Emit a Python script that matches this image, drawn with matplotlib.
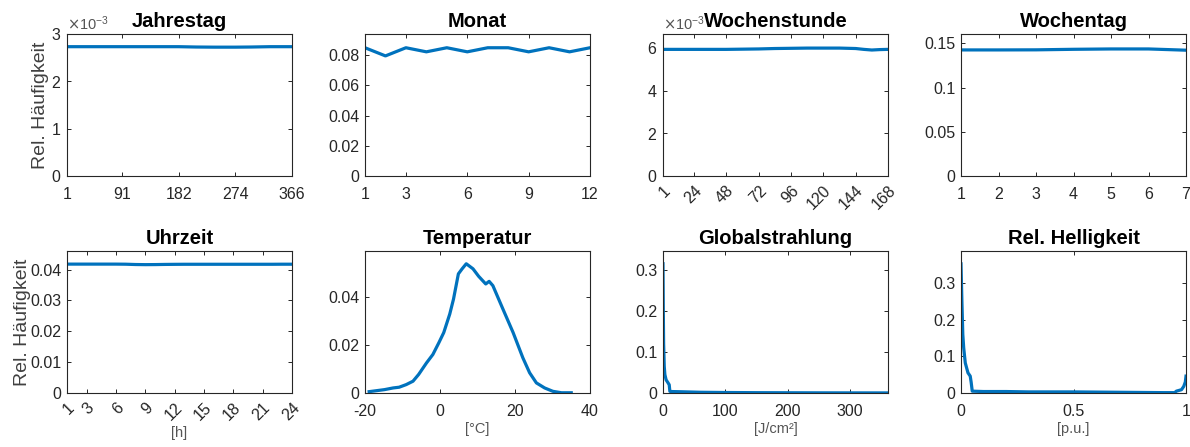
import matplotlib
matplotlib.use("Agg")
import matplotlib.pyplot as plt
from matplotlib.ticker import ScalarFormatter, FormatStrFormatter

plt.rcParams['font.family'] = ['Liberation Sans', 'DejaVu Sans']
plt.rcParams['axes.unicode_minus'] = False

# relative frequencies of the input features
jahrestag_x = [1, 40, 91, 140, 182, 210, 240, 274, 300, 330, 366]
jahrestag_y = [2.732e-3, 2.732e-3, 2.732e-3, 2.732e-3, 2.732e-3, 2.725e-3,
               2.722e-3, 2.722e-3, 2.725e-3, 2.732e-3, 2.732e-3]

monat_x = list(range(1, 13))
monat_y = [0.0849, 0.0795, 0.0849, 0.0822, 0.0849, 0.0822,
           0.0849, 0.0849, 0.0822, 0.0849, 0.0822, 0.0849]

wochenstunde_x = [1, 24, 48, 60, 72, 84, 96, 108, 120, 132, 144, 150, 156, 162, 168]
wochenstunde_y = [5.93e-3, 5.93e-3, 5.93e-3, 5.94e-3, 5.95e-3, 5.97e-3, 5.98e-3,
                  5.99e-3, 5.99e-3, 5.99e-3, 5.97e-3, 5.93e-3, 5.90e-3, 5.92e-3, 5.93e-3]

wochentag_x = [1, 2, 3, 4, 5, 6, 7]
wochentag_y = [0.1425, 0.1425, 0.1426, 0.1432, 0.1436, 0.1436, 0.1422]

uhrzeit_x = list(range(1, 25))
uhrzeit_y = [0.04175, 0.04175, 0.04175, 0.04175, 0.04175, 0.04175, 0.04172, 0.04162,
             0.04158, 0.04160, 0.04165, 0.04168, 0.04170, 0.04170, 0.04170, 0.04170,
             0.04170, 0.04170, 0.04170, 0.04170, 0.04170, 0.04170, 0.04172, 0.04172]

temp_x = [-18.9, -14.8, -12.5, -10.9, -9.0, -7.2, -5.7, -3.6, -1.9, -0.3, 1.0, 2.6,
          3.6, 4.9, 5.9, 7.0, 8.8, 10.3, 12.2, 13.1, 14.1, 16.8, 19.5, 22.1, 23.9,
          25.7, 27.9, 30.1, 32.4, 35.0]
temp_y = [0.00056, 0.0014, 0.0021, 0.0024, 0.0035, 0.0049, 0.0077, 0.0125, 0.016,
          0.0209, 0.0251, 0.0328, 0.039, 0.0495, 0.0516, 0.0537, 0.0516, 0.0485,
          0.0453, 0.0464, 0.0446, 0.0348, 0.0251, 0.0146, 0.0084, 0.0042, 0.0021,
          0.0007, 0.0001, 0.0001]

glob_x = [0, 0.5, 1, 2, 3, 5, 8, 10, 11, 15, 30, 60, 100, 150, 200, 250, 300, 361]
glob_y = [0.315, 0.2, 0.12, 0.065, 0.045, 0.032, 0.025, 0.02, 0.004, 0.0035, 0.003,
          0.0018, 0.0012, 0.0008, 0.0006, 0.0004, 0.0003, 0.0002]

hell_x = [0, 0.004, 0.008, 0.012, 0.019, 0.031, 0.041, 0.045, 0.05, 0.1, 0.2, 0.3,
          0.5, 0.7, 0.9, 0.95, 0.957, 0.98, 0.99, 0.997, 1.0]
hell_y = [0.352, 0.25, 0.16, 0.123, 0.082, 0.055, 0.046, 0.03, 0.005, 0.004, 0.004,
          0.003, 0.003, 0.002, 0.001, 0.001, 0.005, 0.009, 0.018, 0.03, 0.046]

line_col = '#0072BD'
grey = '#262626'

fig = plt.figure(figsize=(11.9, 4.47), dpi=100)

W, H = 225 / 1190, 142 / 447
lefts = [67 / 1190, 365 / 1190, 663 / 1190, 961 / 1190]
bottoms = [1 - 176 / 447, 1 - 393 / 447]
ylabel_x = [-0.078, -0.158]


def make_ax(row, col, title, x, y, xlim, ylim, xticks=None, yticks=None,
            xlabel=None, rot=False, sci=False):
    ax = fig.add_axes([lefts[col], bottoms[row], W, H])
    ax.plot(x, y, color=line_col, lw=2.3, solid_joinstyle='round')
    ax.set_xlim(*xlim)
    ax.set_ylim(*ylim)
    if xticks is not None:
        ax.set_xticks(xticks)
    if yticks is not None:
        ax.set_yticks(yticks)
    ax.xaxis.set_major_formatter(FormatStrFormatter('%g'))
    ax.yaxis.set_major_formatter(FormatStrFormatter('%g'))
    # fixed y so the title is not pushed up by the offset text
    ax.set_title(title, fontsize=14.5, fontweight='bold', pad=5, color='black', y=1.0)
    ax.tick_params(direction='in', length=3, width=0.7, colors=grey,
                   labelsize=11.5, top=True, right=True)
    ax.tick_params(axis='y', pad=4)
    ax.tick_params(axis='x', pad=8 if not rot else 5)
    for s in ax.spines.values():
        s.set_color(grey)
        s.set_linewidth(0.8)
    if rot:
        for lab in ax.get_xticklabels():
            lab.set_rotation(45)
            lab.set_ha('right')
            lab.set_va('top')
            lab.set_rotation_mode('anchor')
    if sci:
        fmt = ScalarFormatter(useMathText=True)
        fmt.set_powerlimits((-2, 2))
        ax.yaxis.set_major_formatter(fmt)
        ax.yaxis.get_offset_text().set_fontsize(10.5)
        ax.yaxis.get_offset_text().set_color('#555555')
    if xlabel:
        ax.set_xlabel(xlabel, fontsize=10.5, color='#555555', labelpad=2)
    if col == 0:
        ax.set_ylabel('Rel. Häufigkeit', fontsize=14, color='#404040')
        ax.yaxis.set_label_coords(ylabel_x[row], 0.5)
    return ax


make_ax(0, 0, 'Jahrestag', jahrestag_x, jahrestag_y, (1, 366), (0, 3e-3),
        xticks=[1, 91, 182, 274, 366], yticks=[0, 1e-3, 2e-3, 3e-3], sci=True)
make_ax(0, 1, 'Monat', monat_x, monat_y, (1, 12), (0, 0.094),
        xticks=[1, 3, 6, 9, 12], yticks=[0, 0.02, 0.04, 0.06, 0.08])
make_ax(0, 2, 'Wochenstunde', wochenstunde_x, wochenstunde_y, (1, 168), (0, 6.65e-3),
        xticks=[1, 24, 48, 72, 96, 120, 144, 168], yticks=[0, 2e-3, 4e-3, 6e-3],
        rot=True, sci=True)
make_ax(0, 3, 'Wochentag', wochentag_x, wochentag_y, (1, 7), (0, 0.1605),
        xticks=[1, 2, 3, 4, 5, 6, 7], yticks=[0, 0.05, 0.1, 0.15])
make_ax(1, 0, 'Uhrzeit', uhrzeit_x, uhrzeit_y, (1, 24), (0, 0.046),
        xticks=[1, 3, 6, 9, 12, 15, 18, 21, 24],
        yticks=[0, 0.01, 0.02, 0.03, 0.04], xlabel='[h]', rot=True)
make_ax(1, 1, 'Temperatur', temp_x, temp_y, (-20, 40), (0, 0.059),
        xticks=[-20, 0, 20, 40], yticks=[0, 0.02, 0.04], xlabel='[°C]')
make_ax(1, 2, 'Globalstrahlung', glob_x, glob_y, (0, 361), (0, 0.346),
        xticks=[0, 100, 200, 300], yticks=[0, 0.1, 0.2, 0.3], xlabel='[J/cm²]')
make_ax(1, 3, 'Rel. Helligkeit', hell_x, hell_y, (0, 1), (0, 0.387),
        xticks=[0, 0.5, 1], yticks=[0, 0.1, 0.2, 0.3], xlabel='[p.u.]')

fig.savefig('out.png', dpi=100)
